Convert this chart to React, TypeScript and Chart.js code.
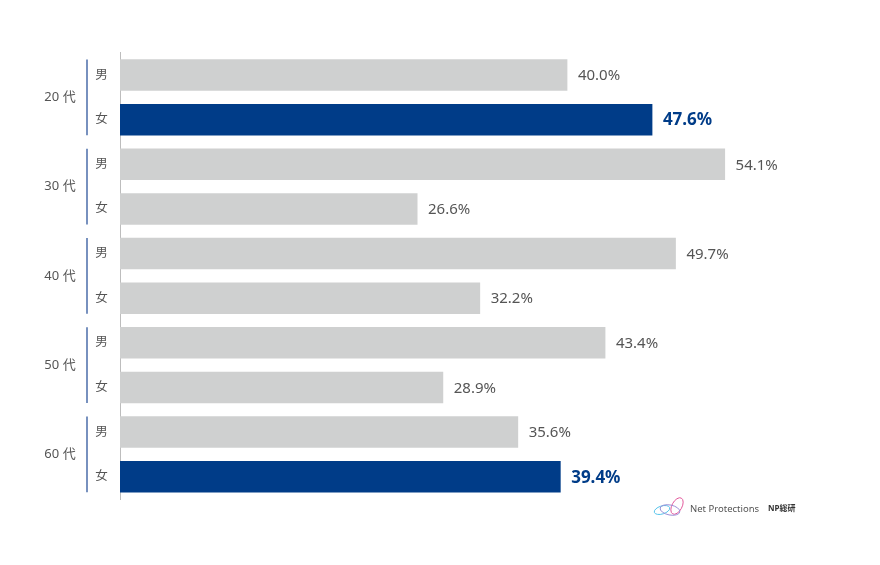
import React, { useEffect, useRef } from "react";
import { Chart, registerables } from "chart.js";

Chart.register(...registerables);

const groups = ["20 代", "30 代", "40 代", "50 代", "60 代"];
const genders = ["男", "女"];
const values = [40.0, 47.6, 54.1, 26.6, 49.7, 32.2, 43.4, 28.9, 35.6, 39.4];
const highlighted = [1, 9];

const categories = groups.flatMap((g) => genders.map((s) => `${g} ${s}`));

const GRAY = "#cfd0d0";
const BLUE = "#003c88";
const FONT = "'Noto Sans', 'Noto Sans CJK JP', sans-serif";

const labelsPlugin = {
  id: "customLabels",
  afterDatasetsDraw(chart: any) {
    const { ctx, chartArea } = chart;
    const meta = chart.getDatasetMeta(0);
    const yScale = chart.scales.y;
    ctx.save();
    meta.data.forEach((bar: any, i: number) => {
      const hi = highlighted.includes(i);
      ctx.font = hi ? `bold 17px ${FONT}` : `15px ${FONT}`;
      ctx.fillStyle = hi ? BLUE : "#555555";
      ctx.textAlign = "left";
      ctx.textBaseline = "middle";
      ctx.fillText(values[i].toFixed(1) + "%", bar.x + 10.5, bar.y + 1);
    });
    const step = yScale.getPixelForValue(1) - yScale.getPixelForValue(0);
    const half = step * 0.35;
    groups.forEach((g, gi) => {
      const i0 = gi * 2;
      const i1 = gi * 2 + 1;
      const y0 = yScale.getPixelForValue(i0);
      const y1 = yScale.getPixelForValue(i1);
      ctx.fillStyle = "#555555";
      ctx.font = `12.5px ${FONT}`;
      ctx.textAlign = "center";
      ctx.textBaseline = "middle";
      ctx.fillText(genders[0], chartArea.left - 18.5, y0);
      ctx.fillText(genders[1], chartArea.left - 18.5, y1);
      ctx.font = `13px ${FONT}`;
      ctx.fillText(g, chartArea.left - 60, (y0 + y1) / 2);
      ctx.strokeStyle = "#2f569c";
      ctx.lineWidth = 1.3;
      ctx.beginPath();
      ctx.moveTo(chartArea.left - 33, y0 - half);
      ctx.lineTo(chartArea.left - 33, y1 + half);
      ctx.stroke();
    });
    const lx = 668;
    const ly = 509;
    ctx.lineWidth = 1;
    ctx.strokeStyle = "#55c3ea";
    ctx.beginPath();
    ctx.ellipse(lx - 6, ly + 1, 8, 4, -0.3, 0, Math.PI * 2);
    ctx.stroke();
    ctx.strokeStyle = "#e2589b";
    ctx.beginPath();
    ctx.ellipse(lx + 9, ly - 3, 5, 9, 0.5, 0, Math.PI * 2);
    ctx.stroke();
    ctx.strokeStyle = "#9b8fd6";
    ctx.beginPath();
    ctx.ellipse(lx + 2, ly + 1, 10, 5, 0.2, 0, Math.PI * 2);
    ctx.stroke();
    ctx.fillStyle = "#555555";
    ctx.font = `9.5px ${FONT}`;
    ctx.textAlign = "left";
    ctx.textBaseline = "middle";
    ctx.fillText("Net Protections", 690, 509);
    ctx.font = `bold 8px ${FONT}`;
    ctx.fillStyle = "#333333";
    ctx.fillText("NP総研", 768, 509);
    ctx.restore();
  },
};

export default function App() {
  const ref = useRef<HTMLCanvasElement>(null);
  useEffect(() => {
    document.body.style.margin = "0";
    const chart = new Chart(ref.current!, {
      type: "bar",
      data: {
        labels: categories,
        datasets: [
          {
            data: values,
            backgroundColor: values.map((_, i) => (highlighted.includes(i) ? BLUE : GRAY)),
            barPercentage: 0.706,
            categoryPercentage: 1,
          },
        ],
      },
      options: {
        indexAxis: "y",
        animation: false,
        responsive: true,
        maintainAspectRatio: false,
        layout: { padding: { top: 52.7, bottom: 66, left: 0, right: 33 } },
        plugins: { legend: { display: false }, tooltip: { enabled: false } },
        scales: {
          x: { display: false, min: 0, max: 65 },
          y: {
            ticks: { display: false },
            grid: { display: false },
            border: { display: true, color: "#bdbdbd", width: 1 },
            afterFit: (scale: any) => {
              scale.width = 120;
            },
          },
        },
      },
      plugins: [labelsPlugin],
    });
    return () => chart.destroy();
  }, []);
  return (
    <div style={{ width: 880, height: 565, position: "relative", background: "#fff" }}>
      <canvas ref={ref} />
    </div>
  );
}
